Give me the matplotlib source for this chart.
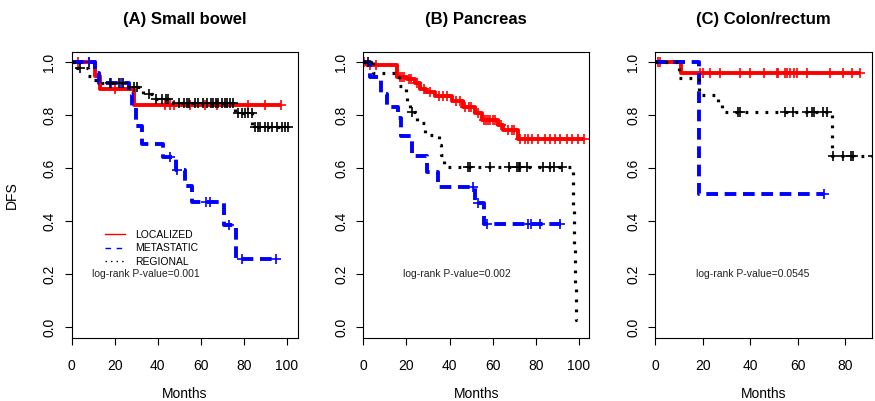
import numpy as np
import matplotlib
matplotlib.use('Agg')
import matplotlib.pyplot as plt
from matplotlib.lines import Line2D

plt.rcParams['font.family'] = ['Liberation Sans', 'DejaVu Sans']
plt.rcParams['lines.scale_dashes'] = False

# ---- (A) Small bowel ----
a_loc_t = [11, 13, 29]
a_loc_s = [0.95, 0.90, 0.84]
a_loc_c = [3, 8, 20, 43.5, 45.5, 47.5, 55, 62, 67.5, 82, 90, 97.5]
a_loc_end = 97.5

a_met_t = [11, 12.5, 26.5, 28, 30, 32.5, 42.5, 48.5, 52.5, 56, 71, 76.5]
a_met_s = [0.96, 0.92, 0.88, 0.83, 0.76, 0.69, 0.644, 0.594, 0.534, 0.474, 0.386, 0.257]
a_met_c = [8, 18.5, 23, 45.5, 49, 62.5, 64.5, 73, 79, 95]
a_met_end = 95

a_reg_t = [2.5, 7.5, 10.5, 12.5, 26, 33, 38, 47, 76, 84]
a_reg_s = [0.98, 0.95, 0.935, 0.92, 0.905, 0.88, 0.86, 0.845, 0.81, 0.757]
a_reg_c = [4, 18, 22, 24, 29, 30.5, 36, 39, 42, 44, 45, 50, 52, 53.5, 54.7, 57.3, 58.9,
           61.2, 62.8, 64.6, 65.9, 67.1, 68.2, 69.7, 71.3, 72, 73.6, 75.1, 77.5, 79, 80.6,
           82.1, 83.7, 85.2, 86.8, 87.6, 89.9, 91.4, 93, 95.3, 97.7, 99.2, 100.5]
a_reg_end = 100.5

# ---- (B) Pancreas ----
b_loc_t = [1.5, 15.5, 20.5, 24, 26.3, 29.3, 33.2, 41, 46.2, 51.8, 54.9, 62.6, 65, 71.8]
b_loc_s = [0.99, 0.946, 0.936, 0.92, 0.90, 0.886, 0.871, 0.855, 0.83, 0.81, 0.783, 0.764,
           0.745, 0.71]
b_loc_c = [0.5, 3, 6, 17, 18, 19, 21, 22, 25, 28, 31, 35, 37, 39, 43, 45, 47, 49, 50, 53,
           56, 57, 58, 59, 60, 61, 64, 67, 69, 70, 72.7, 75, 76.5, 78.1, 81.2, 84.3, 86.6,
           88.9, 91.3, 94.4, 96.7, 99.8, 102.4]
b_loc_end = 102.4

b_met_t = [3, 8, 11, 16, 17.7, 22.4, 29.6, 34.7, 52, 56]
b_met_s = [0.944, 0.88, 0.83, 0.79, 0.72, 0.648, 0.587, 0.53, 0.47, 0.388]
b_met_c = [51, 53, 57.2, 76.5, 78, 82, 91.3]
b_met_end = 92

b_reg_t = [4.5, 16.5, 19.6, 20.3, 21.5, 24.7, 28.6, 35.3, 36.2, 37.5, 97.3, 97.8, 98.3, 98.8]
b_reg_s = [0.96, 0.91, 0.883, 0.848, 0.814, 0.77, 0.726, 0.688, 0.65, 0.606, 0.45, 0.30,
           0.15, 0.025]
b_reg_c = [2, 22.7, 48.7, 49.5, 58.8, 67.7, 71.5, 72.2, 72.9, 75.8, 83.5, 86.6, 88.5, 92]
b_reg_end = 99.0

# ---- (C) Colon/rectum ----
c_loc_t = [11]
c_loc_s = [0.961]
c_loc_c = [1.3, 2, 18.9, 20.3, 23.1, 27.3, 35.7, 40, 45.9, 51.2, 51.9, 54.7, 55.4, 56.8,
           58.5, 59.9, 63.9, 73.7, 79.3, 82.9, 86.4]
c_loc_end = 86.5

c_met_t = [18.5]
c_met_s = [0.502]
c_met_c = [71]
c_met_end = 71

c_reg_t = [10, 18.6, 26.5, 28, 74.4]
c_reg_s = [0.94, 0.877, 0.85, 0.814, 0.646]
c_reg_c = [35, 35.7, 54.7, 58.2, 63.9, 66, 67, 70.6, 72.3, 74.9, 79.3, 82.4, 83.5, 92]
c_reg_end = 92

titles = ['(A) Small bowel', '(B) Pancreas', '(C) Colon/rectum']
pvals = ['log-rank P-value=0.001', 'log-rank P-value=0.002', 'log-rank P-value=0.0545']
group_names = ['LOCALIZED', 'METASTATIC', 'REGIONAL']

styles = {
    'LOCALIZED': dict(color='#ff0000', linestyle='-', lw=2.8),
    'METASTATIC': dict(color='#0000ff', linestyle=(0, (8.4, 4.8)), lw=2.8),
    'REGIONAL': dict(color='black', linestyle=(0, (2.0, 5.2)), lw=2.3),
}


def km(ax, t, s, c, end, name):
    st = styles[name]
    x = [0] + list(t) + [end]
    y = [1] + list(s) + [s[-1]]
    ax.step(x, y, where='post', color=st['color'], linestyle=st['linestyle'],
            lw=st['lw'], solid_capstyle='butt', dash_capstyle='butt')
    sv = np.array([1.0] + list(s))
    idx = np.searchsorted(np.array(t), np.array(c), side='right')
    ax.plot(c, sv[idx], linestyle='none', marker='+', ms=7.5, mew=1.2, color=st['color'])


fig = plt.figure(figsize=(8.75, 4.01), dpi=100)
W, H = 875.0, 401.0
boxes = [(71.7, 297.7), (363.3, 589.0), (655.3, 872.0)]
xmaxes = [105.1, 104.7, 91.4]
top, bot = 51.7, 337.7
txt_x = [9.3, 18.2, 17.2]

data = [
    [(a_loc_t, a_loc_s, a_loc_c, a_loc_end), (a_met_t, a_met_s, a_met_c, a_met_end),
     (a_reg_t, a_reg_s, a_reg_c, a_reg_end)],
    [(b_loc_t, b_loc_s, b_loc_c, b_loc_end), (b_met_t, b_met_s, b_met_c, b_met_end),
     (b_reg_t, b_reg_s, b_reg_c, b_reg_end)],
    [(c_loc_t, c_loc_s, c_loc_c, c_loc_end), (c_met_t, c_met_s, c_met_c, c_met_end),
     (c_reg_t, c_reg_s, c_reg_c, c_reg_end)],
]

for i in range(3):
    l, r = boxes[i]
    ax = fig.add_axes([l / W, 1 - bot / H, (r - l) / W, (bot - top) / H])
    for name, (t, s, c, end) in zip(group_names, data[i]):
        km(ax, t, s, c, end, name)
    ax.set_xlim(0, xmaxes[i])
    ax.set_ylim(-0.04, 1.04)
    ax.set_yticks([0, 0.2, 0.4, 0.6, 0.8, 1.0])
    ax.set_yticklabels(['0.0', '0.2', '0.4', '0.6', '0.8', '1.0'], rotation=90, va='center')
    ax.set_xticks([x for x in [0, 20, 40, 60, 80, 100] if x <= xmaxes[i]])
    ax.tick_params(length=5, width=0.8, labelsize=10)
    ax.tick_params(axis='x', pad=10)
    ax.tick_params(axis='y', pad=6)
    for sp in ax.spines.values():
        sp.set_linewidth(0.8)
    ax.set_title(titles[i], fontsize=12, fontweight='bold', pad=20)
    ax.text(txt_x[i], 0.2, pvals[i], fontsize=7.5, ha='left', va='center', color='#222222')
    fig.text((l + r) / 2 / W, 1 - 394 / H, 'Months', ha='center', va='center', fontsize=10)
    if i == 0:
        handles = [Line2D([0], [0], color=styles[n]['color'], linestyle=styles[n]['linestyle'],
                          lw=1.0) for n in group_names]
        handles[1].set_linestyle((0, (4, 4)))
        handles[2].set_linestyle((0, (1, 3)))
        ax.legend(handles, group_names, loc='center left', bbox_to_anchor=(0.147, 0.3126),
                  frameon=False, fontsize=7.5, handlelength=1.9, handletextpad=1.0,
                  labelspacing=0.35, borderpad=0, borderaxespad=0)

fig.text(12 / W, 1 - 194.7 / H, 'DFS', rotation=90, ha='center', va='center', fontsize=10)

fig.savefig('out.png', dpi=100)
